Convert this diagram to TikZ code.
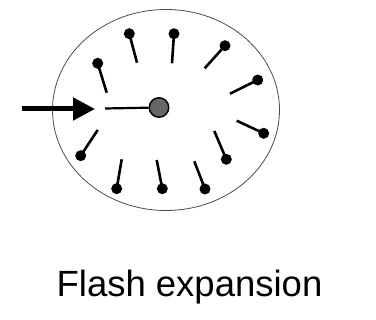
\documentclass[tikz,border=0pt]{standalone}
\usepackage{fontspec}
\setmainfont{Liberation Sans}
\usetikzlibrary{arrows.meta}
\begin{document}
\begin{tikzpicture}[x=1pt,y=-1pt,
  stem/.style={line width=2.6pt,black},
  bead/.style={circle,fill=black,inner sep=0pt,minimum size=11pt},
  core/.style={circle,draw=black,line width=1.4pt,fill=black!60,inner sep=0pt,minimum size=19.5pt},
  shell/.style={draw=black!70,line width=0.8pt},
  push/.style={line width=5pt,-{Triangle[length=22pt,width=22pt]}}]
\useasboundingbox (0,0) rectangle (376,320);
% outer shell
\draw[shell] (166,110) ellipse [x radius=113.5, y radius=100.5];
% central droplet and incoming jet
\node[core] (c) at (159,107.5) {};
\coordinate (s0) at (105,108.5);
\draw[stem,line width=2.2pt] (s0) -- (c);
\coordinate (a0) at (22,109);
\coordinate (a1) at (95,109);
\draw[push] (a0) -- (a1);
% radial pins: bead position / inner end of stem
\foreach \i/\bx/\by/\ex/\ey in {
  1/97.7/63.3/106.7/92.7,
  2/129.3/33.7/137/62.7,
  3/174/33.7/172/63.3,
  4/225/45.7/204.7/68.3,
  5/257.7/80/230/93.7,
  6/263.7/133.3/236.7/120.7,
  7/226.3/159.3/214.3/131,
  8/205/189/194.3/161.3,
  9/162.3/188.7/156.7/160,
  10/116.7/188.7/121.7/159.3,
  11/80.7/155.7/97.7/130}{
  \node[bead] (b\i) at (\bx,\by) {};
  \coordinate (e\i) at (\ex,\ey);
  \draw[stem] (e\i) -- (b\i.center);
}
% caption
\node[anchor=base,font=\fontsize{36.5}{40}\selectfont] (cap) at (189.5,297) {Flash expansion};
\end{tikzpicture}
\end{document}
